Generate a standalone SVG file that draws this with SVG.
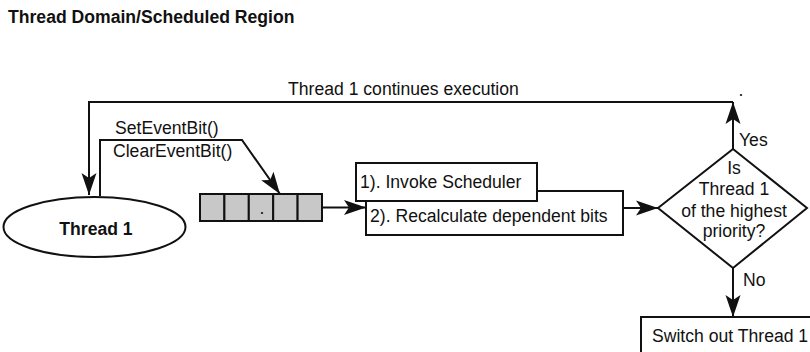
<svg xmlns="http://www.w3.org/2000/svg" width="810" height="352" viewBox="0 0 810 352">
<style>
text{font-family:"Liberation Sans",Arial,sans-serif;font-size:17.6px;fill:#111}
.b{font-weight:bold}
.c{text-anchor:middle}
.ln{fill:none;stroke:#111;stroke-width:2}
.box{fill:#fff;stroke:#111;stroke-width:2}
.cell{fill:#c8c8c8;stroke:#111;stroke-width:2}
.arr{marker-end:url(#ah)}
</style>
<defs>
<marker id="ah" viewBox="0 -8 23 16" refX="22" refY="0" markerWidth="23" markerHeight="16" markerUnits="userSpaceOnUse" orient="auto">
<path d="M0,-7.5 L22,0 L0,7.5 L5,0 z" fill="#111"/>
</marker>
</defs>
<rect width="810" height="352" fill="#fff"/>
<text class="b" x="8" y="22.5">Thread Domain/Scheduled Region</text>
<g id="connectors">
<path class="ln arr" d="M733,149 L733,102"/>
<path class="ln arr" d="M733,102 L89,102 L89,195"/>
<path class="ln arr" d="M100,196 L100,140 L242,140 L280,194"/>
<path class="ln arr" d="M322,207.5 L366,207.5"/>
<path class="ln arr" d="M623,208 L658,208"/>
<path class="ln arr" d="M733,268 L733,317"/>
<text x="288" y="95">Thread 1 continues execution</text>
<text x="115" y="134">SetEventBit()</text>
<text x="113" y="157">ClearEventBit()</text>
<text x="739" y="146">Yes</text>
<text x="743" y="286">No</text>
<text class="c" x="741" y="96">.</text>
</g>
<g id="thread1">
<ellipse class="box" cx="94.5" cy="227" rx="91" ry="30"/>
<text class="b c" x="96" y="235">Thread 1</text>
</g>
<g id="eventbits">
<rect class="cell" x="200" y="194" width="24.4" height="27"/>
<rect class="cell" x="224.4" y="194" width="24.4" height="27"/>
<rect class="cell" x="248.8" y="194" width="24.4" height="27"/>
<rect class="cell" x="273.2" y="194" width="24.4" height="27"/>
<rect class="cell" x="297.6" y="194" width="24.4" height="27"/>
<text class="c" x="262" y="214">.</text>
</g>
<g id="recalc">
<rect class="box" x="366" y="191" width="257" height="44"/>
<text x="370" y="221.7">2). Recalculate dependent bits</text>
</g>
<g id="invoke">
<rect class="box" x="356" y="163" width="181" height="38"/>
<text x="360" y="187.7">1). Invoke Scheduler</text>
</g>
<g id="decision">
<polygon class="box" points="658,208 733,149 807,208 733,268"/>
<text class="c" x="734" y="174">Is</text>
<text class="c" x="734" y="195">Thread 1</text>
<text class="c" x="734" y="217">of the highest</text>
<text class="c" x="734" y="237">priority?</text>
</g>
<g id="switchout">
<rect class="box" x="641" y="317" width="190" height="60"/>
<text x="652" y="342">Switch out Thread 1</text>
</g>
</svg>
